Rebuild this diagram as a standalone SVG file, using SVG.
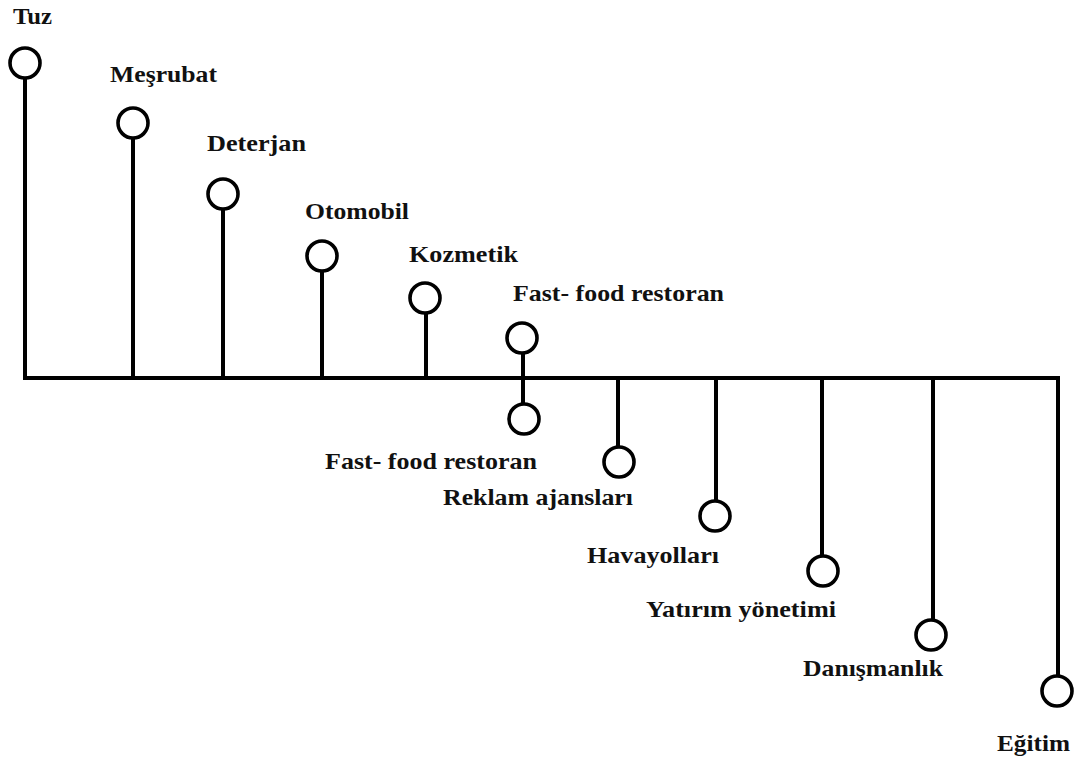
<svg xmlns="http://www.w3.org/2000/svg" width="1075" height="757" viewBox="0 0 1075 757">
<style>
.ln{stroke:#000;stroke-width:4;fill:none;stroke-linecap:square}
.c{stroke:#000;stroke-width:3.6;fill:#fff}
.t{font-family:"Liberation Serif","Times New Roman",serif;font-weight:bold;font-size:23px;fill:#111}
</style>
<rect width="1075" height="757" fill="#fff"/>
<g id="connectors">
<path class="ln" d="M25 78V378H1058"/>
<path class="ln" d="M133 138V378"/>
<path class="ln" d="M223 209V378"/>
<path class="ln" d="M322 271V378"/>
<path class="ln" d="M426 313V378"/>
<path class="ln" d="M523 353V404"/>
<path class="ln" d="M618 378V447"/>
<path class="ln" d="M716 378V500"/>
<path class="ln" d="M822 378V556"/>
<path class="ln" d="M933 378V619"/>
<path class="ln" d="M1058 378V675"/>
</g>
<g id="n-tuz"><circle class="c" cx="25" cy="63" r="15"/><text class="t" x="13" y="24" textLength="39" lengthAdjust="spacingAndGlyphs">Tuz</text></g>
<g id="n-mesrubat"><circle class="c" cx="133" cy="123" r="15"/><text class="t" x="110" y="82" textLength="107" lengthAdjust="spacingAndGlyphs">Meşrubat</text></g>
<g id="n-deterjan"><circle class="c" cx="223" cy="194" r="15"/><text class="t" x="207" y="151" textLength="99" lengthAdjust="spacingAndGlyphs">Deterjan</text></g>
<g id="n-otomobil"><circle class="c" cx="322" cy="256" r="15"/><text class="t" x="305" y="219" textLength="104" lengthAdjust="spacingAndGlyphs">Otomobil</text></g>
<g id="n-kozmetik"><circle class="c" cx="425" cy="298" r="15"/><text class="t" x="409" y="262" textLength="109" lengthAdjust="spacingAndGlyphs">Kozmetik</text></g>
<g id="n-fastfood-top"><circle class="c" cx="522" cy="338" r="15"/><text class="t" x="513" y="301" textLength="211" lengthAdjust="spacingAndGlyphs">Fast- food restoran</text></g>
<g id="n-fastfood-bottom"><circle class="c" cx="524" cy="419" r="15"/><text class="t" x="325" y="469" textLength="212" lengthAdjust="spacingAndGlyphs">Fast- food restoran</text></g>
<g id="n-reklam"><circle class="c" cx="619" cy="462" r="15"/><text class="t" x="443" y="505" textLength="190" lengthAdjust="spacingAndGlyphs">Reklam ajansları</text></g>
<g id="n-havayollari"><circle class="c" cx="715" cy="516" r="15"/><text class="t" x="587" y="563" textLength="132" lengthAdjust="spacingAndGlyphs">Havayolları</text></g>
<g id="n-yatirim"><circle class="c" cx="823" cy="571" r="15"/><text class="t" x="646" y="617" textLength="190" lengthAdjust="spacingAndGlyphs">Yatırım yönetimi</text></g>
<g id="n-danismanlik"><circle class="c" cx="931" cy="635" r="15"/><text class="t" x="803" y="676" textLength="140" lengthAdjust="spacingAndGlyphs">Danışmanlık</text></g>
<g id="n-egitim"><circle class="c" cx="1057" cy="691" r="15"/><text class="t" x="997" y="751" textLength="73" lengthAdjust="spacingAndGlyphs">Eğitim</text></g>
</svg>
